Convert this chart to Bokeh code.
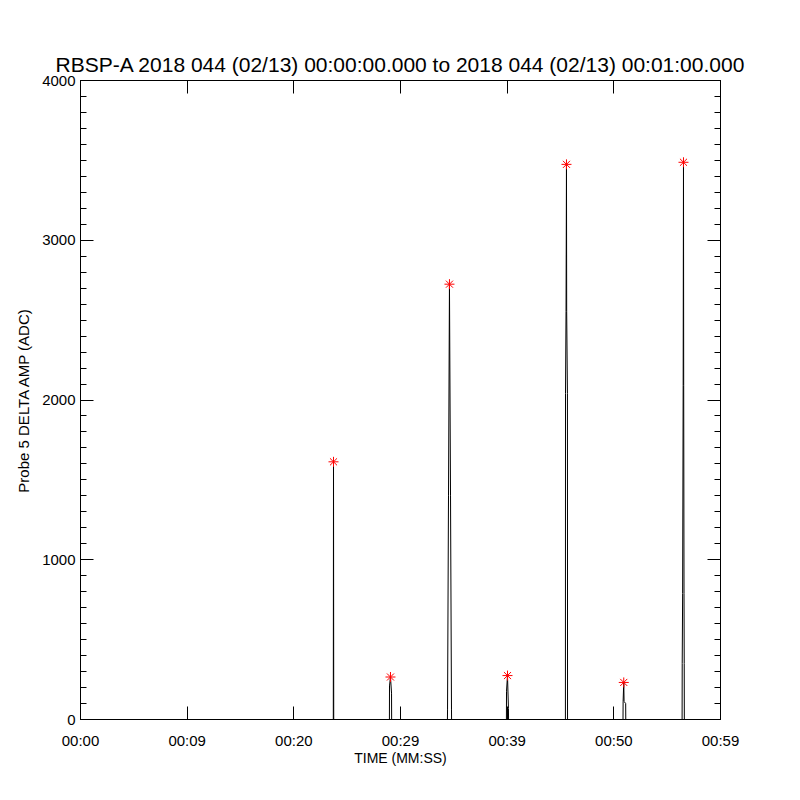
from bokeh.plotting import figure
from bokeh.models import FixedTicker, LinearAxis, Range1d
from bokeh.embed import file_html
from bokeh.resources import INLINE

# ---- data ----
time_s = [0.0,
          23.70, 23.72, 23.74,
          28.96, 28.97, 29.06, 29.16, 29.17,
          34.40, 34.41, 34.50, 34.59, 34.69, 34.78, 34.79,
          39.93, 39.94, 40.03, 40.12, 40.13,
          45.46, 45.47, 45.52, 45.56, 45.58, 45.65, 45.66,
          50.86, 50.87, 50.93, 50.96, 51.11, 51.12,
          56.40, 56.41, 56.45, 56.50, 56.53, 56.55, 56.58, 56.60, 56.61,
          60.0]
amp_adc = [0,
           0, 1613, 0,
           0, 210, 266, 165, 0,
           0, 60, 1400, 2725, 1400, 60, 0,
           0, 177, 275, 69, 0,
           0, 2040, 2555, 3475, 2555, 2040, 0,
           0, 113, 232, 113, 100, 0,
           0, 350, 789, 2091, 3488, 2091, 789, 350, 0,
           0]

peak_t = [23.72, 29.06, 34.59, 40.03, 45.56, 50.93, 56.53]
peak_v = [1613, 266, 2725, 275, 3475, 232, 3488]

x_ticks = [0, 10, 20, 30, 40, 50, 60]
x_tick_labels = ["00:00", "00:09", "00:20", "00:29", "00:39", "00:50", "00:59"]
y_ticks = [0, 1000, 2000, 3000, 4000]
y_minor = list(range(0, 4001, 100))

title_text = "RBSP-A 2018 044 (02/13) 00:00:00.000 to 2018 044 (02/13) 00:01:00.000"
FONT = "Liberation Sans"

p = figure(width=792, height=792, output_backend="svg", toolbar_location=None,
           x_range=Range1d(0, 60), y_range=Range1d(0, 4000),
           frame_width=640, frame_height=639,
           min_border_left=80, min_border_right=72, min_border_top=80, min_border_bottom=73,
           title=title_text)
p.grid.visible = False
p.outline_line_color = "black"
p.background_fill_color = "white"
p.border_fill_color = "white"

p.title.align = "center"
p.title.text_font = FONT
p.title.text_font_size = "21px"
p.title.text_font_style = "normal"
p.title.text_color = "black"
p.title.standoff = 10

def style_axis(ax, ticker, show_labels):
    ax.ticker = ticker
    ax.axis_line_color = "black"
    ax.major_tick_line_color = "black"
    ax.minor_tick_line_color = "black"
    ax.major_tick_in = 13
    ax.major_tick_out = 0
    ax.minor_tick_in = 6
    ax.minor_tick_out = 0
    ax.major_label_text_font = FONT
    ax.major_label_text_font_size = "15px"
    ax.major_label_text_color = "black"
    ax.axis_label_text_font = FONT
    ax.axis_label_text_font_style = "normal"
    ax.axis_label_text_color = "black"
    if not show_labels:
        ax.major_label_text_color = None
        ax.major_label_text_font_size = "1px"
        ax.major_label_standoff = 0

xt = FixedTicker(ticks=x_ticks, minor_ticks=[])
yt = FixedTicker(ticks=y_ticks, minor_ticks=y_minor)

xa = p.xaxis[0]
style_axis(xa, xt, True)
xa.major_label_overrides = dict(zip(x_ticks, x_tick_labels))
xa.major_label_standoff = 12
xa.axis_label = "TIME (MM:SS)"
xa.axis_label_text_font_size = "14px"
xa.axis_label_standoff = -2

ya = p.yaxis[0]
style_axis(ya, yt, True)
ya.major_label_standoff = 5
ya.axis_label = "Probe 5 DELTA AMP (ADC)"
ya.axis_label_text_font_size = "15px"
ya.axis_label_standoff = 7

top = LinearAxis()
style_axis(top, FixedTicker(ticks=x_ticks, minor_ticks=[]), False)
p.add_layout(top, "above")

right = LinearAxis()
style_axis(right, FixedTicker(ticks=y_ticks, minor_ticks=y_minor), False)
p.add_layout(right, "right")

p.line(time_s, amp_adc, line_color="black", line_width=1)
p.scatter(peak_t, peak_v, marker="asterisk", size=10, line_color="red", line_width=1)

open("out.html", "w").write(file_html(p, INLINE))
